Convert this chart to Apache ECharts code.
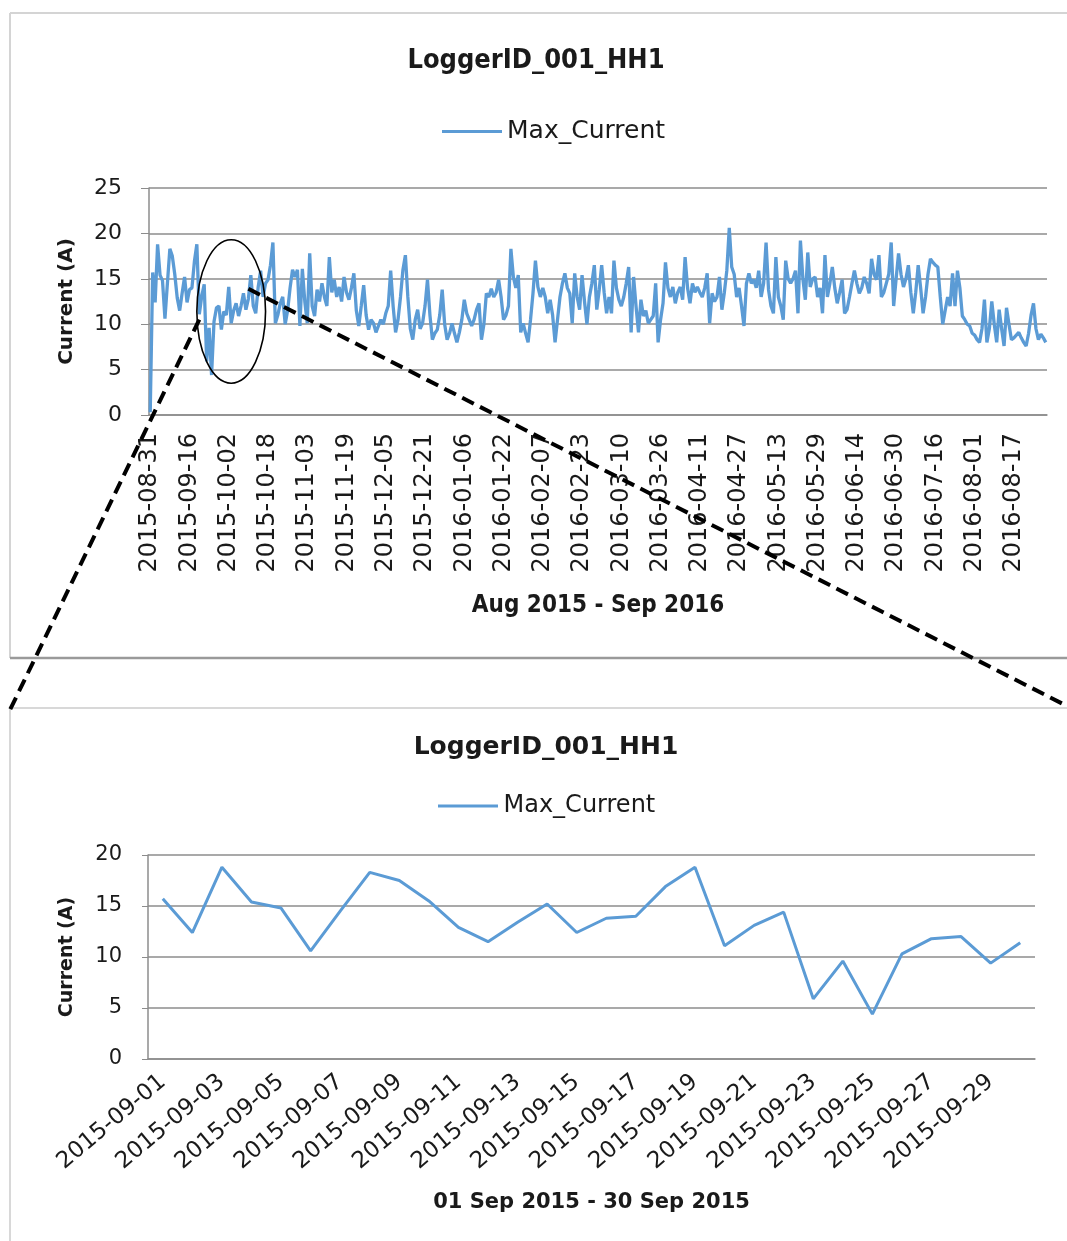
<!DOCTYPE html>
<html>
<head>
<meta charset="utf-8">
<script src="https://cdn.jsdelivr.net/npm/echarts@6/dist/echarts.min.js"></script>
<style>
  html, body { margin: 0; padding: 0; background: #ffffff; }
  #chart { width: 1067px; height: 1241px; }
</style>
</head>
<body>
<div id="chart"></div>
<script>
// ---- data -------------------------------------------------------------
const chartTitle = 'LoggerID_001_HH1';
const seriesName = 'Max_Current';
const yAxisName = 'Current (A)';
const yearAxisName = 'Aug 2015 - Sep 2016';
const monthAxisName = '01 Sep 2015 - 30 Sep 2015';

// daily category labels
function dayLabels(start, count) {
  const out = [];
  const d = new Date(start + 'T00:00:00Z');
  for (let i = 0; i < count; i++) {
    out.push(d.toISOString().slice(0, 10));
    d.setUTCDate(d.getUTCDate() + 1);
  }
  return out;
}
const yearDates = dayLabels('2015-08-31', 366);
const septDates = dayLabels('2015-09-01', 30);

// daily maximum current, 31 Aug 2015 - 30 Aug 2016
const yearCurrent = [
  0.3,
  15.7,12.4,18.8,15.4,14.8,10.6,14.5,18.3,17.5,15.5,12.9,11.5,13.4,15.2,12.4,
  13.8,14.0,16.9,18.8,11.1,13.1,14.4,5.9,9.6,4.4,10.3,11.8,12.0,9.4,11.4,
  11.0,14.1,10.1,11.5,12.3,10.9,12.0,13.4,11.6,12.8,15.4,12.0,11.2,14.1,15.9,13.0,14.5,
  14.9,16.5,19.0,10.1,11.0,12.3,13.0,10.0,11.5,14.0,16.0,15.2,16.0,
  9.8,16.1,12.5,10.1,17.8,12.0,10.9,13.8,12.5,14.5,
  13.0,12.0,17.4,13.5,14.9,13.0,14.1,12.5,15.2,13.5,
  12.7,14.0,15.6,11.5,9.8,12.0,14.3,11.0,9.4,10.5,
  10.1,9.1,9.8,10.5,10.0,11.2,12.0,15.9,12.0,9.1,
  10.5,13.0,16.0,17.6,13.0,9.5,8.3,10.5,11.6,9.5,
  10.1,12.0,14.9,11.0,8.3,9.0,9.4,11.0,13.8,10.0,
  8.3,9.0,10.1,9.0,8.0,9.1,10.5,12.7,11.2,10.5,
  9.8,10.5,11.6,12.3,8.3,10.0,13.4,13.0,13.9,13.0,
  13.5,14.9,13.0,10.5,11.0,12.0,18.3,15.2,14.0,15.4,
  9.1,10.1,9.0,8.0,10.5,13.4,17.0,14.1,13.0,14.0,
  13.0,11.2,12.7,11.0,8.0,10.5,13.0,14.5,15.6,14.0,
  13.4,10.1,15.6,13.0,11.6,15.4,12.5,10.0,13.0,14.5,
  16.5,11.6,13.8,16.5,13.5,11.2,13.0,11.2,17.0,14.0,
  12.7,12.0,13.0,14.5,16.3,9.1,15.2,12.0,9.1,12.7,
  10.9,11.5,10.1,10.5,10.9,14.5,8.0,10.5,12.3,16.8,
  14.0,13.0,14.1,12.3,13.5,14.1,12.7,17.4,14.0,12.3,
  14.5,13.5,14.1,13.5,13.0,14.0,15.6,10.1,13.4,12.5,
  13.0,15.2,11.6,13.5,15.9,20.6,16.3,15.5,13.0,14.0,
  12.0,9.8,14.5,15.6,14.5,14.9,14.0,15.9,13.0,14.5,
  19.0,13.8,12.0,11.2,17.4,13.0,12.0,10.5,17.0,15.0,
  14.5,15.0,15.9,11.2,19.2,15.0,12.7,17.9,14.1,15.0,
  15.2,13.0,14.0,11.2,17.6,13.0,14.5,16.3,14.0,12.3,
  13.5,14.9,11.2,11.6,13.0,14.5,15.9,14.5,13.4,14.0,
  15.2,14.5,13.4,17.2,15.5,14.9,17.6,13.0,13.5,14.5,
  15.5,19.0,12.0,15.0,17.8,15.5,14.1,15.0,16.5,13.5,
  11.2,13.5,16.5,14.0,11.2,13.0,15.5,17.2,16.8,16.5,
  16.3,13.0,10.0,11.5,13.0,12.0,15.6,12.0,15.9,14.0,
  10.9,10.5,10.0,9.8,9.0,8.8,8.3,8.0,9.5,12.7,
  8.0,9.5,12.5,10.0,8.0,11.6,9.5,7.6,11.8,10.0,
  8.3,8.5,8.8,9.1,8.5,8.0,7.6,9.0,11.0,12.3,
  9.5,8.3,8.9,8.5,8.0
];

// daily maximum current, September 2015
const septCurrent = [
  15.7,12.4,18.8,15.4,14.8,10.6,14.5,18.3,17.5,15.5,
  12.9,11.5,13.4,15.2,12.4,13.8,14.0,16.9,18.8,11.1,
  13.1,14.4,5.9,9.6,4.4,10.3,11.8,12.0,9.4,11.4
];

// value axes
const yearAxisMax = 25, monthAxisMax = 20, axisStep = 5;

// ---- style ------------------------------------------------------------
const LINE_BLUE = '#5b9bd5';
const GRID_GREY = '#8c8c8c';
const TEXT = '#1a1a1a';
const SANS = '"DejaVu Sans", sans-serif';
const SANS_COND = '"DejaVu Sans Condensed", "DejaVu Sans", sans-serif';
const legendIcon = 'path://M0,0 L60,0 L60,3 L0,3 Z';

const chart = echarts.init(document.getElementById('chart'), null, { renderer: 'canvas' });

const option = {
  backgroundColor: '#ffffff',
  animation: false,
  title: [
    { text: chartTitle, left: 531, top: 42, textAlign: 'center',
      textStyle: { fontFamily: SANS_COND, fontWeight: 'bold', fontSize: 27, color: TEXT } },
    { text: chartTitle, left: 541, top: 730, textAlign: 'center',
      textStyle: { fontFamily: SANS, fontWeight: 'bold', fontSize: 25, color: TEXT } }
  ],
  legend: [
    { data: [{ name: seriesName }], left: 437, top: 114, itemWidth: 60, itemHeight: 3, itemGap: 0,
      icon: legendIcon, seriesIndex: 0,
      textStyle: { fontFamily: SANS, fontSize: 25, color: TEXT, padding: [0, 0, 0, 0] } },
    { data: [{ name: seriesName }], left: 433, top: 789, itemWidth: 61, itemHeight: 3, itemGap: 0,
      icon: legendIcon,
      textStyle: { fontFamily: SANS, fontSize: 24, color: TEXT } }
  ],
  grid: [
    { left: 149, right: 20, top: 188, bottom: 1241 - 415, containLabel: false },
    { left: 148, right: 32, top: 855, bottom: 1241 - 1059, containLabel: false }
  ],
  xAxis: [
    {
      type: 'category', gridIndex: 0, data: yearDates, boundaryGap: true,
      name: yearAxisName, nameLocation: 'middle', nameGap: 179,
      nameTextStyle: { fontFamily: SANS_COND, fontWeight: 'bold', fontSize: 24, color: TEXT },
      axisLine: { lineStyle: { color: GRID_GREY, width: 1.5 } },
      axisTick: { interval: 0, length: 9, lineStyle: { color: GRID_GREY, width: 1 } },
      axisLabel: { interval: 15, rotate: 90, margin: 18, fontFamily: SANS, fontSize: 24, color: TEXT }
    },
    {
      type: 'category', gridIndex: 1, data: septDates, boundaryGap: true,
      name: monthAxisName, nameLocation: 'middle', nameGap: 133,
      nameTextStyle: { fontFamily: SANS, fontWeight: 'bold', fontSize: 21, color: TEXT },
      axisLine: { lineStyle: { color: GRID_GREY, width: 1.5 } },
      axisTick: { interval: 0, length: 6, lineStyle: { color: GRID_GREY, width: 1 } },
      axisLabel: { interval: 1, rotate: 40, margin: 20, fontFamily: SANS, fontSize: 23, color: TEXT }
    }
  ],
  yAxis: [
    {
      type: 'value', gridIndex: 0, min: 0, max: yearAxisMax, interval: axisStep,
      name: yAxisName, nameLocation: 'middle', nameGap: 72, nameRotate: 90,
      nameTextStyle: { fontFamily: SANS, fontWeight: 'bold', fontSize: 20, color: TEXT },
      axisLine: { show: true, lineStyle: { color: GRID_GREY, width: 1.5 } },
      axisTick: { show: true, length: 8, lineStyle: { color: GRID_GREY } },
      axisLabel: { margin: 27, fontFamily: SANS, fontSize: 22, color: TEXT },
      splitLine: { lineStyle: { color: GRID_GREY, width: 1.5 } }
    },
    {
      type: 'value', gridIndex: 1, min: 0, max: monthAxisMax, interval: axisStep,
      name: yAxisName, nameLocation: 'middle', nameGap: 71, nameRotate: 90,
      nameTextStyle: { fontFamily: SANS, fontWeight: 'bold', fontSize: 19, color: TEXT },
      axisLine: { show: true, lineStyle: { color: GRID_GREY, width: 1.5 } },
      axisTick: { show: true, length: 6, lineStyle: { color: GRID_GREY } },
      axisLabel: { margin: 26, fontFamily: SANS, fontSize: 21, color: TEXT },
      splitLine: { lineStyle: { color: GRID_GREY, width: 1.5 } }
    }
  ],
  series: [
    { name: seriesName, type: 'line', xAxisIndex: 0, yAxisIndex: 0, data: yearCurrent,
      symbol: 'none', lineStyle: { color: LINE_BLUE, width: 3.3 }, itemStyle: { color: LINE_BLUE } },
    { name: seriesName, type: 'line', xAxisIndex: 1, yAxisIndex: 1, data: septCurrent,
      symbol: 'none', lineStyle: { color: LINE_BLUE, width: 3 }, itemStyle: { color: LINE_BLUE } }
  ]
};
chart.setOption(option);

// ---- panel frames and zoom call-out -----------------------------------
const W = 1067, H = 1241;
const toYear = (p) => chart.convertToPixel({ gridIndex: 0 }, p);

// highlighted period (early October 2015)
const focusCenter = toYear([33.3, 11.4]);
const focusEdgeX = toYear([47.2, 11.4]);
const focusEdgeY = toYear([33.3, 19.3]);
const rx = Math.abs(focusEdgeX[0] - focusCenter[0]);
const ry = Math.abs(focusCenter[1] - focusEdgeY[1]);

// call-out lines from the highlighted period to the detail panel
const leftFrom = toYear([19.5, 10.5]);
const rightFrom = toYear([40.3, 13.9]);
const leftTo = [8, 714];
const rightTo = [W, 706];

const dash = { stroke: '#000', lineWidth: 4, lineDash: [13, 7] };

chart.setOption({
  graphic: [
    // upper panel frame
    { type: 'line', z: -1, silent: true, shape: { x1: 10, y1: 13, x2: W, y2: 13 },
      style: { stroke: '#d4d4d4', lineWidth: 2 } },
    { type: 'line', z: -1, silent: true, shape: { x1: 10, y1: 13, x2: 10, y2: 658 },
      style: { stroke: '#d4d4d4', lineWidth: 2 } },
    { type: 'line', z: -1, silent: true, shape: { x1: 10, y1: 658, x2: W, y2: 658 },
      style: { stroke: '#9a9a9a', lineWidth: 2.5 } },
    // lower panel frame
    { type: 'line', z: -1, silent: true, shape: { x1: 10, y1: 708, x2: W, y2: 708 },
      style: { stroke: '#d8d8d8', lineWidth: 2 } },
    { type: 'line', z: -1, silent: true, shape: { x1: 10, y1: 708, x2: 10, y2: H },
      style: { stroke: '#d8d8d8', lineWidth: 2 } },
    // highlight ring
    { type: 'ellipse', z: 100, silent: true,
      shape: { cx: focusCenter[0], cy: focusCenter[1], rx: rx, ry: ry },
      style: { fill: null, stroke: '#000', lineWidth: 1.6 } },
    // call-out lines
    { type: 'line', z: 101, silent: true,
      shape: { x1: leftFrom[0], y1: leftFrom[1], x2: leftTo[0], y2: leftTo[1] }, style: dash },
    { type: 'line', z: 101, silent: true,
      shape: { x1: rightFrom[0], y1: rightFrom[1], x2: rightTo[0], y2: rightTo[1] }, style: dash }
  ]
});
</script>
</body>
</html>
